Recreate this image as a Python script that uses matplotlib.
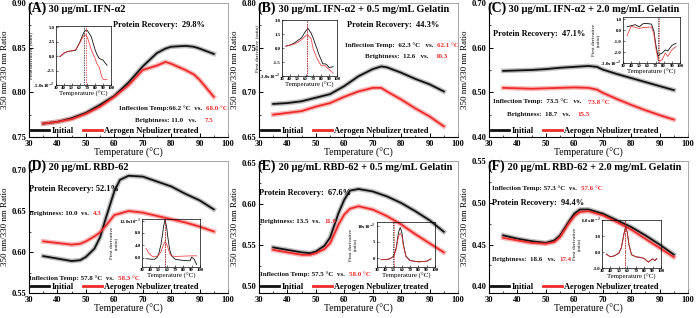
import matplotlib.pyplot as plt
from matplotlib.lines import Line2D
from matplotlib.ticker import AutoMinorLocator

plt.rcParams['font.family'] = ['Liberation Serif', 'DejaVu Serif']
plt.rcParams['font.weight'] = 'bold'
plt.rcParams['mathtext.fontset'] = 'stix'

W, H = 697, 318
BLACK = '#111111'
RED = '#ee2a2a'

# ---- main curves (350/330 ratio vs temperature) ----
a_temp = [35, 40, 45, 50, 55, 60, 65, 70, 75, 78, 80, 85, 88, 90, 95]
a_init = [0.765, 0.767, 0.771, 0.777, 0.786, 0.796, 0.811, 0.829, 0.844, 0.849,
          0.851, 0.852, 0.851, 0.849, 0.843]
a_aero = [0.765, 0.767, 0.770, 0.776, 0.784, 0.795, 0.808, 0.825, 0.830, 0.834,
          0.832, 0.825, 0.820, 0.814, 0.795]

b_temp = [35, 40, 45, 50, 55, 60, 65, 70, 73, 75, 80, 85, 90, 95]
b_init = [0.687, 0.688, 0.690, 0.694, 0.698, 0.707, 0.718, 0.726, 0.729, 0.728,
          0.722, 0.715, 0.709, 0.701]
b_aero = [0.675, 0.677, 0.679, 0.684, 0.688, 0.695, 0.701, 0.705, 0.705, 0.701,
          0.692, 0.682, 0.673, 0.662]

c_temp = [35, 40, 45, 50, 55, 60, 65, 68, 70, 75, 80, 85, 90, 95]
c_init = [0.548, 0.549, 0.550, 0.552, 0.555, 0.557, 0.559, 0.557, 0.551, 0.541,
          0.532, 0.523, 0.514, 0.505]
c_aero = [0.510, 0.509, 0.508, 0.509, 0.510, 0.511, 0.510, 0.506, 0.499, 0.485,
          0.472, 0.460, 0.449, 0.439]

d_temp = [35, 40, 45, 48, 50, 53, 55, 57, 60, 62, 65, 70, 75, 80, 85, 90, 95]
d_init = [0.595, 0.592, 0.589, 0.590, 0.594, 0.604, 0.618, 0.641, 0.674, 0.688,
          0.693, 0.692, 0.686, 0.680, 0.671, 0.663, 0.652]
d_aero = [0.613, 0.611, 0.609, 0.610, 0.613, 0.619, 0.624, 0.632, 0.645, 0.647,
          0.650, 0.648, 0.644, 0.640, 0.636, 0.631, 0.625]

e_temp = [35, 40, 45, 48, 50, 53, 55, 58, 60, 62, 65, 70, 75, 80, 85, 90, 95]
e_init = [0.547, 0.544, 0.541, 0.540, 0.542, 0.549, 0.559, 0.589, 0.605, 0.616,
          0.618, 0.615, 0.609, 0.601, 0.591, 0.580, 0.566]
e_aero = [0.544, 0.541, 0.538, 0.538, 0.540, 0.545, 0.552, 0.575, 0.587, 0.594,
          0.597, 0.593, 0.585, 0.575, 0.563, 0.552, 0.541]

f_temp = [35, 40, 45, 50, 53, 55, 58, 60, 62, 65, 70, 75, 80, 85, 90, 95]
f_init = [0.461, 0.457, 0.454, 0.452, 0.455, 0.461, 0.477, 0.487, 0.492, 0.492,
          0.487, 0.479, 0.471, 0.461, 0.450, 0.438]
f_aero = [0.458, 0.455, 0.452, 0.451, 0.453, 0.459, 0.475, 0.484, 0.489, 0.490,
          0.485, 0.477, 0.468, 0.457, 0.446, 0.435]

# ---- inset curves (first derivative, x10^-3) ----
a_dtemp = [35, 40, 45, 50, 55, 60, 65, 68, 70, 75, 80, 82, 85, 88, 90, 92, 95]
a_d_init = [-0.1, 0.5, 0.8, 0.9, 1.0, 2.3, 4.0, 4.5, 4.4, 3.3, 1.0, 0.3, -0.4,
            -0.6, -0.7, -1.1, -1.6]
a_d_aero = [-0.1, 0.5, 0.8, 0.9, 1.1, 2.2, 3.5, 3.7, 3.2, 1.1, -0.5, -1.3, -1.9,
            -3.5, -4.0, -4.1, -4.0]

b_dtemp = [35, 40, 45, 50, 55, 60, 62, 63, 67, 70, 72, 75, 77, 80, 82, 85, 87, 90, 95]
b_d_init = [0.2, 0.3, 0.5, 0.8, 1.1, 1.8, 2.0, 2.1, 1.6, 1.0, 0.5, -0.2, -0.7, -1.3,
            -1.7, -1.7, -1.8, -2.1, -2.0]
b_d_aero = [0.2, 0.3, 0.4, 0.6, 0.9, 1.3, 1.4, 1.4, 1.0, -0.2, -0.6, -1.2, -1.5,
            -1.9, -1.9, -1.9, -2.1, -2.3, -2.7]

c_dtemp = [35, 40, 45, 50, 55, 60, 65, 68, 70, 73, 75, 78, 82, 85, 90, 95]
c_d_init = [0.3, 0.4, 0.5, 0.3, 0.6, 0.6, 0.55, -0.1, -1.2, -2.4, -2.2, -2.1,
            -1.8, -1.9, -1.4, -1.2]
c_d_aero = [-0.5, 0.35, 0.25, 0.15, 0.25, 0.25, 0.3, -0.4, -1.5, -2.7, -2.85,
            -2.7, -2.1, -2.4, -1.8, -1.5]

d_dtemp = [35, 38, 42, 45, 48, 50, 53, 55, 56, 57.8, 60, 61, 63, 64, 66, 70, 80,
           88, 90, 93, 96]
d_d_init = [-0.3, -0.4, -0.5, -0.5, 0.0, 1.1, 4.4, 8.0, 10.0, 12.4, 9.4, 7.0, 3.3,
            2.0, 0.5, -0.5, -0.9, -1.0, 0.2, -0.5, -2.2]
d_d_aero = [3.0, 1.5, 0.5, 0.3, 0.4, 0.8, 2.0, 3.5, 4.2, 5.2, 4.2, 3.5, 1.8, 1.0,
            0.6, 0.4, 0.5, 0.6, 0.6, 0.6, 0.6]

e_dtemp = [35, 40, 45, 50, 53, 56, 58, 60, 62, 65, 70, 80, 90, 95]
e_d_init = [-0.5, -0.5, -0.3, 0.5, 3.0, 8.0, 9.5, 8.0, 4.0, 0.5, -0.8, -1.2, -1.0, -0.3]
e_d_aero = [-0.5, -0.5, -0.3, 0.4, 2.5, 6.8, 7.8, 6.8, 3.5, 0.4, -0.8, -1.2, -1.0, -0.3]

f_dtemp = [35, 40, 45, 50, 53, 56, 58, 60, 62, 65, 70, 75, 80, 85, 90, 93, 95]
f_d_init = [-0.4, -0.9, -0.7, -0.2, 0.8, 3.4, 4.7, 3.7, 1.4, -0.5, -0.9, -1.0,
            -1.2, -1.9, -1.3, -1.6, -1.2]
f_d_aero = [-0.4, -0.9, -0.7, -0.2, 0.8, 3.3, 4.6, 3.6, 1.3, -0.5, -0.9, -1.0,
            -1.2, -1.9, -1.3, -1.6, -1.2]


def px_axes(fig, x0, y0, x1, y1):
    return fig.add_axes([x0 / W, 1 - y1 / H, (x1 - x0) / W, (y1 - y0) / H])


def main_panel(fig, box, temp, init, aero, ylim, yticks, label, title):
    ax = px_axes(fig, *box)
    ax.plot(temp, init, color='#8a8a8a', lw=3.4, alpha=0.55)
    ax.plot(temp, aero, color='#f58a8a', lw=3.4, alpha=0.6)
    ax.plot(temp, init, color=BLACK, lw=1.3)
    ax.plot(temp, aero, color=RED, lw=1.3)
    ax.set_xlim(30, 100)
    ax.set_ylim(*ylim)
    ax.set_xticks(range(30, 101, 10))
    ax.set_yticks(yticks)
    ax.set_yticklabels([f"{v:.2f}" for v in yticks])
    ax.xaxis.set_minor_locator(AutoMinorLocator(2))
    ax.yaxis.set_minor_locator(AutoMinorLocator(2))
    ax.tick_params(which='both', direction='in', labelsize=6, pad=2,
                   top=False, right=False)
    ax.tick_params(which='major', length=3, width=0.7)
    ax.tick_params(which='minor', length=1.6, width=0.5)
    for s in ('top', 'right'):
        ax.spines[s].set_color('#9a9a9a')
        ax.spines[s].set_linewidth(0.6)
    for s in ('left', 'bottom'):
        ax.spines[s].set_linewidth(0.8)
    ax.set_xlabel("Temperature (°C)", fontsize=7, labelpad=0.5)
    ax.set_ylabel("350 nm/330 nm Ratio", fontsize=6.5, labelpad=2)
    ax.patch.set_alpha(0)
    t = ax.text(-0.01, 0.935, label, transform=ax.transAxes, fontsize=10)
    ax.annotate(" " + title, xy=(1, 0.05), xycoords=t, va='bottom', fontsize=7.5)
    handles = [Line2D([], [], color=BLACK, lw=2), Line2D([], [], color=RED, lw=2)]
    ax.legend(handles, ["Initial", "Aerogen Nebulizer treated"], loc='lower left',
              ncol=2, frameon=False, fontsize=6, handlelength=2.2,
              columnspacing=1.1, handletextpad=0.3, borderaxespad=0.15,
              borderpad=0.1)
    return ax


def inset(fig, box, dtemp, d_init, d_aero, ylim, yticks, ylabels, vlines, two_line):
    ax = px_axes(fig, *box)
    ax.plot(dtemp, d_init, color=BLACK, lw=0.6)
    ax.plot(dtemp, d_aero, color=RED, lw=0.6, alpha=0.85)
    ax.axvline(vlines[0], color=BLACK, lw=0.5, ls=(0, (2, 1.5)))
    ax.axvline(vlines[1], color=RED, lw=0.5, ls=(0, (2, 1.5)))
    ax.set_xlim(30, 100)
    ax.set_ylim(*ylim)
    ax.set_xticks(range(30, 101, 10))
    ax.set_yticks(yticks)
    ax.set_yticklabels(ylabels)
    ax.tick_params(direction='in', labelsize=3.5, length=1.5, width=0.4, pad=1)
    for s in ax.spines.values():
        s.set_linewidth(0.5)
    ax.set_xlabel("Temperature (°C)", fontsize=5, labelpad=0.5)
    ylab = "First derivative\n(ratio)" if two_line else "First derivative (ratio)"
    ax.set_ylabel(ylab, fontsize=3.8, labelpad=0.3, linespacing=0.9)
    ax.patch.set_alpha(0)
    return ax


def two_tone(ax, x, y, black, red, size=5.0, gap=3, right=False):
    # black text followed by the red value
    if right:
        t = ax.text(x, y, red, transform=ax.transAxes, fontsize=size, color=RED,
                    ha='right')
        ax.annotate(black, xy=(0, 0), xycoords=t, xytext=(-gap, 0),
                    textcoords='offset points', va='bottom', ha='right',
                    fontsize=size, color=BLACK)
    else:
        t = ax.text(x, y, black, transform=ax.transAxes, fontsize=size, color=BLACK)
        ax.annotate(red, xy=(1, 0), xycoords=t, xytext=(gap, 0),
                    textcoords='offset points', va='bottom', fontsize=size,
                    color=RED)


fig = plt.figure(figsize=(W / 100, H / 100), dpi=100)

ax = main_panel(fig, (29, 3, 228, 137), a_temp, a_init, a_aero, (0.75, 0.90),
                [0.75, 0.80, 0.85, 0.90], "(A)", "30 µg/mL IFN-α2")
ax.text(0.42, 0.82, "Protein Recovery:  29.8%", transform=ax.transAxes, fontsize=6)
two_tone(ax, 1.0, 0.20, "Inflection Temp:66.2 °C  vs.", "68.0 °C", right=True)
two_tone(ax, 0.533, 0.115, "Brightness: 11.0   vs.", "7.5", gap=6)
inset(fig, (56, 26, 111, 85), a_dtemp, a_d_init, a_d_aero, (-5.0, 5.2),
      [-5.0, -2.5, 0.0, 2.5, 5.0], ["-5.0x10$^{-3}$", "-2.5", "0.0", "2.5", "5.0"],
      (66.2, 68.0), False)

ax = main_panel(fig, (259, 3, 458, 137), b_temp, b_init, b_aero, (0.65, 0.80),
                [0.65, 0.70, 0.75, 0.80], "(B)", "30 µg/mL IFN-α2 + 0.5 mg/mL Gelatin")
ax.text(0.44, 0.82, "Protein Recovery:  44.3%", transform=ax.transAxes, fontsize=6)
two_tone(ax, 0.43, 0.675, "Inflection Temp:  62.3 °C   vs.", "62.1 °C", gap=3)
two_tone(ax, 0.533, 0.59, "Brightness:  12.6   vs.", "10.3", gap=5)
inset(fig, (282, 20, 337, 76), b_dtemp, b_d_init, b_d_aero, (-3.0, 3.0),
      [-3.0, -1.5, 0.0, 1.5, 3.0], ["-3.0x10$^{-3}$", "-1.5", "0.0", "1.5", "3.0"],
      (62.3, 62.1), False)

ax = main_panel(fig, (489, 3, 688, 137), c_temp, c_init, c_aero, (0.40, 0.70),
                [0.40, 0.50, 0.60, 0.70], "(C)", "30 µg/mL IFN-α2 + 2.0 mg/mL Gelatin")
ax.text(0.02, 0.75, "Protein Recovery:  47.1%", transform=ax.transAxes, fontsize=6)
two_tone(ax, 0.02, 0.25, "Inflection Temp:  73.5 °C   vs.", "73.8 °C", gap=5)
two_tone(ax, 0.09, 0.16, "Brightness:  18.7   vs.", "15.5", gap=5)
inset(fig, (623, 17, 680, 63), c_dtemp, c_d_init, c_d_aero, (-3.0, 1.2),
      [-3.0, -2.0, -1.0, 0.0, 1.0], ["-3.0x10$^{-3}$", "-2.0", "-1.0", "0.0", "1.0"],
      (73.5, 73.8), True)

ax = main_panel(fig, (29, 161, 228, 293), d_temp, d_init, d_aero, (0.55, 0.711),
                [0.55, 0.60, 0.65, 0.70], "(D)", "20 µg/mL RBD-62")
ax.text(0.0, 0.77, "Protein Recovery: 52.1%", transform=ax.transAxes, fontsize=6)
two_tone(ax, 0.0, 0.59, "Brightness: 10.0  vs.", "4.3")
two_tone(ax, 0.0, 0.10, "Inflection Temp: 57.8 °C  vs.", "58.3 °C")
inset(fig, (142, 219, 200, 267), d_dtemp, d_d_init, d_d_aero, (-3.0, 12.5),
      [0.0, 4.0, 8.0, 12.0], ["0.0", "4.0", "8.0", "12.0x10$^{-3}$"],
      (57.8, 58.3), True)

ax = main_panel(fig, (259, 161, 458, 293), e_temp, e_init, e_aero, (0.4916, 0.652),
                [0.50, 0.55, 0.60, 0.65], "(E)", "20 µg/mL RBD-62 + 0.5 mg/mL Gelatin")
ax.text(0.0, 0.74, "Protein Recovery:  67.6%", transform=ax.transAxes, fontsize=6)
two_tone(ax, 0.005, 0.53, "Brightness: 13.5  vs.", "11.9")
two_tone(ax, 0.005, 0.13, "Inflection Temp: 57.5 °C  vs.", "58.0 °C")
inset(fig, (377, 222, 435, 267), e_dtemp, e_d_init, e_d_aero, (-2.8, 11.2),
      [0, 5, 10], ["0", "5", "10x10$^{-3}$"], (49.5, 51.0), True)

ax = main_panel(fig, (489, 161, 688, 293), f_temp, f_init, f_aero, (0.392, 0.55),
                [0.40, 0.45, 0.50, 0.55], "(F)", "20 µg/mL RBD-62 + 2.0 mg/mL Gelatin")
two_tone(ax, 0.015, 0.78, "Inflection Temp: 57.3 °C  vs.", "57.6 °C")
ax.text(0.015, 0.67, "Protein Recovery:  94.4%", transform=ax.transAxes, fontsize=6)
two_tone(ax, 0.015, 0.24, "Brightness:  18.6   vs.", "17.4")
inset(fig, (602, 220, 661, 268), f_dtemp, f_d_init, f_d_aero, (-3.0, 6.0),
      [-3.0, 0.0, 3.0, 6.0], ["-3.0", "0.0", "3.0", "6.0x10$^{-3}$"],
      (57.3, 57.6), True)

fig.savefig("out.png", dpi=100)
